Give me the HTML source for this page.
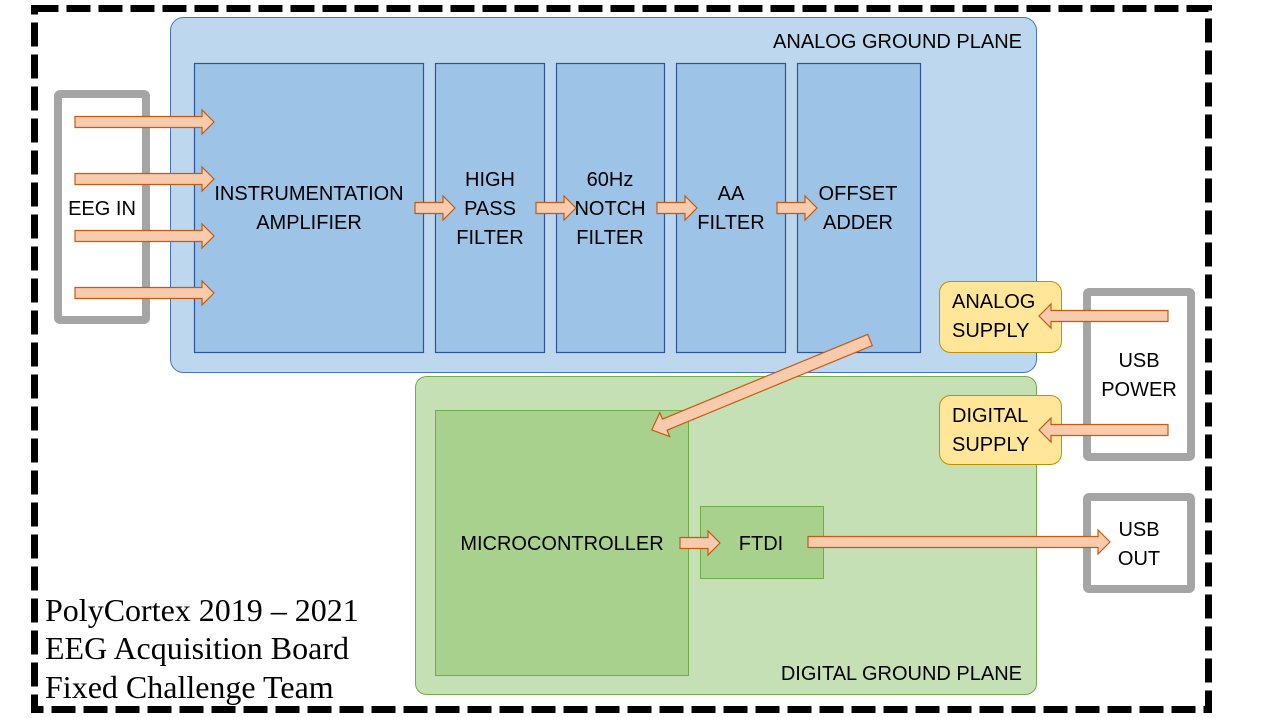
<!DOCTYPE html>
<html><head><meta charset="utf-8"><style>
html,body{margin:0;padding:0;background:#fff;}
svg{display:block;}
text{font-family:"Liberation Sans",sans-serif;font-size:20px;fill:#000;}
.s{font-family:"Liberation Serif",serif;font-size:32px;}
.ar{fill:#f8cbad;stroke:#c55a11;stroke-width:1.2;}
</style></head><body>
<svg width="1274" height="718" viewBox="0 0 1274 718">
<rect x="0" y="0" width="1274" height="718" fill="#fff"/>
<rect x="34.5" y="8.5" width="1174" height="701" fill="none" stroke="#000" stroke-width="7" stroke-dasharray="24 8"/>
<rect x="170.5" y="17.5" width="866" height="355" rx="13" fill="#bdd7ee" stroke="#4472c4" stroke-width="1"/>
<text x="1022" y="48" text-anchor="end">ANALOG GROUND PLANE</text>
<g fill="#9dc3e6" stroke="#2f5597" stroke-width="1.2">
<rect x="194.5" y="63.5" width="229" height="289"/>
<rect x="435.5" y="63.5" width="109" height="289"/>
<rect x="556.5" y="63.5" width="108" height="289"/>
<rect x="676.5" y="63.5" width="109" height="289"/>
<rect x="797.5" y="63.5" width="123" height="289"/>
</g>
<g text-anchor="middle">
<text x="309" y="200">INSTRUMENTATION</text><text x="309" y="229">AMPLIFIER</text>
<text x="490" y="186">HIGH</text><text x="490" y="215">PASS</text><text x="490" y="244">FILTER</text>
<text x="610" y="186">60Hz</text><text x="610" y="215">NOTCH</text><text x="610" y="244">FILTER</text>
<text x="731" y="200">AA</text><text x="731" y="229">FILTER</text>
<text x="858" y="200">OFFSET</text><text x="858" y="229">ADDER</text>
</g>
<rect x="415.5" y="376.5" width="621" height="318" rx="11" fill="#c5e0b4" stroke="#70ad47" stroke-width="1"/>
<text x="1022" y="680" text-anchor="end">DIGITAL GROUND PLANE</text>
<rect x="435.5" y="410.5" width="253" height="265" fill="#a9d18e" stroke="#70ad47"/>
<rect x="700.5" y="506.5" width="123" height="72" fill="#a9d18e" stroke="#70ad47"/>
<text x="562" y="550" text-anchor="middle">MICROCONTROLLER</text>
<text x="761" y="550" text-anchor="middle">FTDI</text>
<rect x="939.5" y="281.5" width="122" height="71" rx="11" fill="#ffe699" stroke="#bf9000"/>
<rect x="939.5" y="395.5" width="122" height="69" rx="11" fill="#ffe699" stroke="#bf9000"/>
<text x="952" y="308">ANALOG</text><text x="952" y="337">SUPPLY</text>
<text x="952" y="422">DIGITAL</text><text x="952" y="451">SUPPLY</text>
<g fill="#fff" stroke="#a5a5a5" stroke-width="8">
<rect x="58" y="94" width="88" height="226" rx="2"/>
<rect x="1087" y="292" width="104" height="165" rx="2"/>
<rect x="1087" y="497" width="104" height="92" rx="2"/>
</g>
<text x="102" y="215" text-anchor="middle">EEG IN</text>
<text x="1139" y="367" text-anchor="middle">USB</text><text x="1139" y="396" text-anchor="middle">POWER</text>
<text x="1139" y="536" text-anchor="middle">USB</text><text x="1139" y="565" text-anchor="middle">OUT</text>
<g class="ar">
<polygon points="75,116.5 202,116.5 202,110 214,122 202,134 202,127.5 75,127.5"/>
<polygon points="75,173.5 202,173.5 202,167 214,179 202,191 202,184.5 75,184.5"/>
<polygon points="75,230.5 202,230.5 202,224 214,236 202,248 202,241.5 75,241.5"/>
<polygon points="75,287.5 202,287.5 202,281 214,293 202,305 202,298.5 75,298.5"/>
<polygon points="415,202.5 443,202.5 443,196 455,208 443,220 443,213.5 415,213.5"/>
<polygon points="536,202.5 564,202.5 564,196 576,208 564,220 564,213.5 536,213.5"/>
<polygon points="657,202.5 685,202.5 685,196 697,208 685,220 685,213.5 657,213.5"/>
<polygon points="777,202.5 805,202.5 805,196 817,208 805,220 805,213.5 777,213.5"/>
<polygon points="680,537.5 708,537.5 708,531 720,543 708,555 708,548.5 680,548.5"/>
<polygon points="808,536.5 1098,536.5 1098,530 1110,542 1098,554 1098,547.5 808,547.5"/>
<polygon points="1168,310.5 1051,310.5 1051,304 1039,316 1051,328 1051,321.5 1168,321.5"/>
<polygon points="1168,424.5 1051,424.5 1051,418 1039,430 1051,442 1051,435.5 1168,435.5"/>
<polygon transform="translate(870,340) rotate(157.6)" points="0,-6 222,-6 222,-13 236,0 222,13 222,6 0,6"/>
</g>
<text class="s" x="45" y="621">PolyCortex 2019 – 2021</text>
<text class="s" x="45" y="659">EEG Acquisition Board</text>
<text class="s" x="45" y="698">Fixed Challenge Team</text>
</svg>
</body></html>
